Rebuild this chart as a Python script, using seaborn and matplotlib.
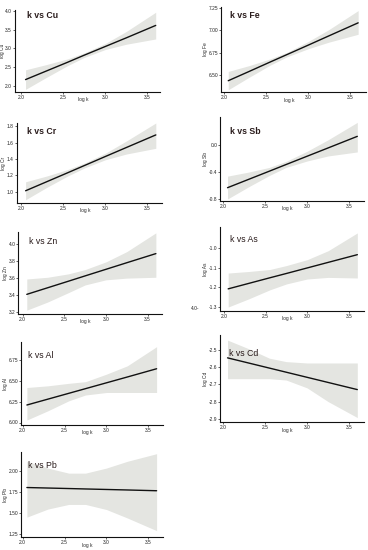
import numpy as np
import matplotlib
matplotlib.use("Agg")
import matplotlib.pyplot as plt
import seaborn as sns

# shared x grid (log k)
log_k = [2.05, 2.3, 2.55, 2.75, 3.0, 3.25, 3.6]

# element names
elements = ["Cu", "Fe", "Cr", "Sb", "Zn", "As", "Al", "Cd", "Pb"]

# fitted line per element
fit_cu = [2.17, 2.40, 2.63, 2.82, 3.05, 3.28, 3.61]
fit_fe = [6.436, 6.540, 6.645, 6.728, 6.832, 6.937, 7.083]
fit_cr = [1.01, 1.12, 1.23, 1.319, 1.43, 1.54, 1.694]
fit_sb = [-0.632, -0.509, -0.386, -0.287, -0.164, -0.041, 0.132]
fit_zn = [3.41, 3.487, 3.564, 3.626, 3.703, 3.780, 3.887]
fit_as = [-1.208, -1.18, -1.152, -1.13, -1.102, -1.074, -1.035]
fit_al = [6.21, 6.28, 6.35, 6.406, 6.476, 6.546, 6.645]
fit_cd = [-2.544, -2.574, -2.604, -2.628, -2.658, -2.688, -2.73]
fit_pb = [1.80, 1.794, 1.788, 1.783, 1.777, 1.771, 1.762]

# confidence band upper
up_cu = [2.43, 2.57, 2.72, 2.88, 3.13, 3.45, 3.96]
up_fe = [6.54, 6.605, 6.68, 6.753, 6.872, 7.007, 7.22]
up_cr = [1.12, 1.19, 1.27, 1.349, 1.47, 1.62, 1.84]
up_sb = [-0.46, -0.40, -0.33, -0.24, -0.09, 0.08, 0.34]
up_zn = [3.59, 3.61, 3.65, 3.70, 3.79, 3.91, 4.13]
up_as = [-1.128, -1.12, -1.11, -1.09, -1.06, -1.015, -0.925]
up_al = [6.42, 6.44, 6.47, 6.49, 6.58, 6.68, 6.91]
up_cd = [-2.44, -2.49, -2.546, -2.566, -2.574, -2.574, -2.574]
up_pb = [2.11, 2.03, 1.97, 1.97, 2.03, 2.11, 2.20]

# confidence band lower
lo_cu = [1.91, 2.23, 2.54, 2.76, 2.97, 3.11, 3.25]
lo_fe = [6.335, 6.475, 6.61, 6.703, 6.792, 6.867, 6.955]
lo_cr = [0.90, 1.05, 1.19, 1.289, 1.39, 1.46, 1.53]
lo_sb = [-0.80, -0.62, -0.45, -0.33, -0.235, -0.16, -0.10]
lo_zn = [3.225, 3.32, 3.43, 3.52, 3.58, 3.60, 3.61]
lo_as = [-1.30, -1.258, -1.213, -1.183, -1.158, -1.15, -1.153]
lo_al = [6.03, 6.14, 6.26, 6.33, 6.36, 6.36, 6.36]
lo_cd = [-2.666, -2.666, -2.666, -2.674, -2.72, -2.80, -2.894]
lo_pb = [1.45, 1.545, 1.60, 1.60, 1.54, 1.44, 1.29]

fits = [fit_cu, fit_fe, fit_cr, fit_sb, fit_zn, fit_as, fit_al, fit_cd, fit_pb]
uppers = [up_cu, up_fe, up_cr, up_sb, up_zn, up_as, up_al, up_cd, up_pb]
lowers = [lo_cu, lo_fe, lo_cr, lo_sb, lo_zn, lo_as, lo_al, lo_cd, lo_pb]

# y ticks per panel
yticks = [
    [2.0, 2.5, 3.0, 3.5, 4.0],
    [6.50, 6.75, 7.00, 7.25],
    [1.0, 1.2, 1.4, 1.6, 1.8],
    [-0.8, -0.4, 0.0],
    [3.2, 3.4, 3.6, 3.8, 4.0],
    [-1.3, -1.2, -1.1, -1.0],
    [6.00, 6.25, 6.50, 6.75],
    [-2.9, -2.8, -2.7, -2.6, -2.5],
    [1.25, 1.50, 1.75, 2.00],
]
yfmt = ["%.1f", "%.2f", "%.1f", "%.1f", "%.1f", "%.1f", "%.2f", "%.1f", "%.2f"]
ylims = [(1.84, 4.02), (6.31, 7.26), (0.86, 1.84), (-0.83, 0.42), (3.18, 4.14),
         (-1.32, -0.895), (5.97, 6.966), (-2.92, -2.41), (1.215, 2.22)]
xlims = [(1.921, 3.651), (1.96, 3.69), (1.944, 3.67), (1.96, 3.68), (1.948, 3.67),
         (1.952, 3.68), (1.976, 3.68), (1.96, 3.68), (1.976, 3.68)]

sns.set_theme(style="ticks")
plt.rcParams["font.family"] = ["Liberation Sans", "DejaVu Sans"]

W, H = 368, 550
fig = plt.figure(figsize=(W / 100, H / 100), dpi=100)

# axes boxes in pixels: (left, top, right, bottom)
boxes = [
    (14.7, 10, 160, 92), (220.7, 7, 365.7, 92),
    (16.7, 123, 161.7, 203), (220, 117, 364, 201),
    (18.3, 232, 161.7, 314), (220, 227, 364, 311),
    (20.7, 342, 163.3, 425), (220, 335, 364, 422),
    (20.7, 452, 163.3, 537),
]
title_pos = [(27, 16), (230, 15), (27, 131), (230, 132), (29, 241),
             (230, 240), (28, 356), (229, 353), (28, 466)]

axes = []
for i, el in enumerate(elements):
    l, t, r, b = boxes[i]
    w = r - l
    ax = fig.add_axes([l / W, 1 - b / H, w / W, (b - t) / H])
    ax.fill_between(log_k, lowers[i], uppers[i], color="#e4e5e1", lw=0)
    sns.lineplot(x=log_k, y=fits[i], ax=ax, color="#111111", linewidth=1.0)
    ax.set_xlim(*xlims[i])
    ax.set_ylim(*ylims[i])
    ax.set_xticks([2.0, 2.5, 3.0, 3.5])
    ax.set_xticklabels(["2.0", "2.5", "3.0", "3.5"])
    ax.set_yticks(yticks[i])
    ax.set_yticklabels([yfmt[i] % v for v in yticks[i]])
    ax.tick_params(labelsize=3.5, length=1.5, width=0.5, pad=0.5, colors="#222222")
    ax.set_xlabel("log k", fontsize=3.5)
    ax.xaxis.set_label_coords(0.47, -0.065)
    ax.set_ylabel("log " + el, fontsize=3.5)
    for s in ["left", "bottom"]:
        ax.spines[s].set_linewidth(0.8)
        ax.spines[s].set_color("#111111")
    sns.despine(ax=ax)
    tx, ty = title_pos[i]
    fig.text(tx / W, 1 - ty / H, "k vs " + el, fontsize=6.3, color="#2a1c1c",
             va="center", ha="left",
             weight="bold" if i < 4 else "normal")
    axes.append((ax, l, w))

# place each y label just left of its tick labels
fig.canvas.draw()
renderer = fig.canvas.get_renderer()
for ax, l, w in axes:
    x0 = min(tl.get_window_extent(renderer).x0 for tl in ax.get_yticklabels())
    xr = max(x0 - 0.6, 5.2)
    ax.yaxis.set_label_coords((xr - l) / w, 0.5)

# stray tick label in the original figure
fig.text(191 / W, 1 - 308 / H, "4.0-", fontsize=3.5, color="#222222", va="center")

fig.savefig("out.png", dpi=100)
